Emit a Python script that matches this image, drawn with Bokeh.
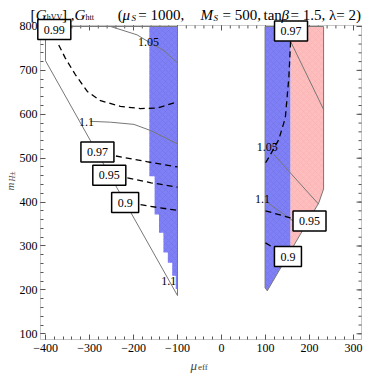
import math
from bokeh.plotting import figure
from bokeh.models import Label, LinearAxis, FixedTicker, Range1d, BoxAnnotation
from bokeh.embed import file_html
from bokeh.resources import INLINE

# ---------------- data ----------------
x_ticks = [-400, -300, -200, -100, 0, 100, 200, 300]
y_ticks = [100, 200, 300, 400, 500, 600, 700, 800]
x_minor = list(range(-400, 301, 20))
y_minor = list(range(100, 801, 20))
x_tick_labels = {-400: "\u2212400", -300: "\u2212300", -200: "\u2212200", -100: "\u2212100",
                 0: "0", 100: "100", 200: "200", 300: "300"}

# allowed-region outlines
left_region_x = [-400, -100, -100, -400]
left_region_y = [800, 800, 187, 722]
right_region_x = [99, 232, 232, 221, 104, 99]
right_region_y = [800, 800, 430, 398, 198, 205]

# shaded regions
left_blue_x = [-164, -100, -100, -104, -104, -112, -112, -122, -122, -132, -132, -142, -142, -152, -152, -164]
left_blue_y = [800, 800, 202, 202, 232, 232, 262, 262, 285, 285, 330, 330, 372, 372, 459, 459]
right_blue_x = [99, 157, 157, 104, 99]
right_blue_y = [800, 800, 289, 198, 205]
right_pink_x = [157, 232, 232, 221, 157]
right_pink_y = [800, 800, 430, 398, 289]

# G_htt contours (solid, grey)
c105_left_x = [-252, -192, -161, -131, -101]
c105_left_y = [800, 781, 762, 745, 718]
c110_left_x = [-298, -252, -199, -161, -101]
c110_left_y = [584, 582, 577, 563, 533]
c100_right_x = [157, 232]
c100_right_y = [766, 611]
c105_right_x = [119, 221]
c105_right_y = [508, 395]
c110_right_x = [106, 157, 172]
c110_right_y = [398, 361, 351]

# G_hVV contours (dashed, black)
d099_left_x = [-370, -355, -332, -305, -275, -230, -184, -146, -101]
d099_left_y = [758, 728, 690, 652, 631, 618, 613, 614, 628]
d097_left_x = [-240, -170, -100]
d097_left_y = [505, 492, 480]
d095_left_x = [-214, -160, -100]
d095_left_y = [455, 444, 434]
d090_left_x = [-184, -140, -100]
d090_left_y = [394, 387, 381]
d097_right_x = [157, 153, 145, 130, 111, 100]
d097_right_y = [766, 683, 592, 542, 508, 489]
d095_right_x = [100, 157]
d095_right_y = [380, 364]
d090_right_x = [100, 115]
d090_right_y = [307, 298]

# framed labels (dashed contours) and plain labels (solid contours)
box_text = ["0.99", "0.97", "0.95", "0.9", "0.97", "0.95", "0.9"]
box_x = [-380, -282, -255, -219, 158, 200, 151]
box_y = [793, 514, 461, 399, 790, 357, 276]
plain_text = ["1.05", "1.1", "1.1", "1.05", "1.1"]
plain_x = [-166, -307, -120, 104, 93]
plain_y = [764, 582, 220, 525, 407]

SERIF = "Liberation Serif"
# visible plot box
X_LO, X_HI = -411.4, 318.2
Y_LO, Y_HI = 87.0, 802.3
# the canvas-wide frame (so that titles and labels around the box are not clipped)
FX_LO, FX_HI = -502.3, 340.9
FY_LO, FY_HI = 5.0, 859.2

p = figure(width=371, height=375, x_range=Range1d(FX_LO, FX_HI), y_range=Range1d(FY_LO, FY_HI),
           output_backend="svg", toolbar_location=None, title=None,
           min_border_left=0, min_border_right=0, min_border_top=0, min_border_bottom=0,
           x_axis_type=None, y_axis_type=None)
p.xgrid.visible = False
p.ygrid.visible = False
p.outline_line_color = None
p.background_fill_color = "white"
p.border_fill_color = "white"

TICK_C = "#555555"

def make_axis(side, ticks, minor, loc, bounds, standoff, overrides=None):
    ax = LinearAxis(ticker=FixedTicker(ticks=ticks, minor_ticks=minor),
                    fixed_location=loc, bounds=bounds)
    ax.axis_line_color = None
    ax.major_tick_in = 5
    ax.major_tick_out = 0
    ax.minor_tick_in = 3
    ax.minor_tick_out = 0
    ax.major_tick_line_color = TICK_C
    ax.minor_tick_line_color = TICK_C
    ax.major_label_text_font = SERIF
    ax.major_label_text_font_size = "12px"
    ax.major_label_text_color = "black"
    ax.major_label_standoff = standoff
    if overrides:
        ax.major_label_overrides = overrides
    p.add_layout(ax, side)

make_axis("below", x_ticks, x_minor, Y_LO, (X_LO, X_HI), 4, x_tick_labels)
make_axis("left", y_ticks, y_minor, X_LO, (Y_LO, Y_HI), 3)

# mirrored ticks on the top and right edges of the box
p.ray(x=x_ticks, y=[Y_HI] * len(x_ticks), length=5, length_units="screen", angle=-math.pi / 2,
      line_color=TICK_C, line_width=1)
p.ray(x=x_minor, y=[Y_HI] * len(x_minor), length=3, length_units="screen", angle=-math.pi / 2,
      line_color=TICK_C, line_width=1)
p.ray(x=[X_HI] * len(y_ticks), y=y_ticks, length=5, length_units="screen", angle=math.pi,
      line_color=TICK_C, line_width=1)
p.ray(x=[X_HI] * len(y_minor), y=y_minor, length=3, length_units="screen", angle=math.pi,
      line_color=TICK_C, line_width=1)

BLUE = "#8080f6"
PINK = "#ffbdbd"
p.patch(left_blue_x, left_blue_y, fill_color=BLUE, line_color=None,
        hatch_pattern="diagonal_cross", hatch_color="#6a6ae0", hatch_alpha=0.35, hatch_scale=6)
p.patch(right_blue_x, right_blue_y, fill_color=BLUE, line_color=None,
        hatch_pattern="diagonal_cross", hatch_color="#6a6ae0", hatch_alpha=0.35, hatch_scale=6)
p.patch(right_pink_x, right_pink_y, fill_color=PINK, line_color=None,
        hatch_pattern="diagonal_cross", hatch_color="#f0a8a8", hatch_alpha=0.35, hatch_scale=6)

p.patch(left_region_x, left_region_y, fill_color=None, line_color="#777777", line_width=1)
p.patch(right_region_x, right_region_y, fill_color=None, line_color="#777777", line_width=1)

for xs, ys in [(c105_left_x, c105_left_y), (c110_left_x, c110_left_y), (c100_right_x, c100_right_y),
               (c105_right_x, c105_right_y), (c110_right_x, c110_right_y)]:
    p.line(xs, ys, line_color="#777777", line_width=1)

for xs, ys in [(d099_left_x, d099_left_y), (d097_left_x, d097_left_y), (d095_left_x, d095_left_y),
               (d090_left_x, d090_left_y), (d097_right_x, d097_right_y), (d095_right_x, d095_right_y),
               (d090_right_x, d090_right_y)]:
    p.line(xs, ys, line_color="black", line_width=1.3, line_dash="6 4")

# the box frame
p.add_layout(BoxAnnotation(left=X_LO, right=X_HI, bottom=Y_LO, top=Y_HI,
                           fill_color=None, line_color="#444444", line_width=1))

for t, x, y in zip(plain_text, plain_x, plain_y):
    p.add_layout(Label(x=x, y=y, text=t, text_font=SERIF, text_font_size="12px",
                       text_align="center", text_baseline="middle", text_color="black"))

for t, x, y in zip(box_text, box_x, box_y):
    p.add_layout(Label(x=x, y=y, text=t, text_font=SERIF, text_font_size="12px",
                       text_align="center", text_baseline="middle", text_color="black",
                       background_fill_color="white", border_line_color="black",
                       border_line_width=1.5, padding=6))

# title pieces: (text, x, y, size, style)
TB, SB = 825.1, 819.4
title_parts = [
    ("[", -434, TB, "15px", "normal"),
    ("G", -422, TB, "15px", "italic"),
    ("hVV", -397, SB, "8px", "normal"),
    ("] ,", -362.5, TB, "15px", "normal"),
    ("G", -334, TB, "15px", "italic"),
    ("htt", -309, SB, "8px", "normal"),
    ("(", -236, TB, "15px", "normal"),
    ("\u03bc", -225, TB, "15px", "italic"),
    ("S", -204.5, SB, "9px", "italic"),
    ("= 1000,", -189, TB, "15px", "normal"),
    ("M", -47.7, TB, "15px", "italic"),
    ("S", -18, SB, "9px", "italic"),
    ("= 500,", 2.3, TB, "15px", "normal"),
    ("tan", 95.5, TB, "15px", "normal"),
    ("\u03b2", 136.4, TB, "15px", "italic"),
    ("= 1.5, \u03bb= 2)", 156.8, TB, "15px", "normal"),
]
for t, x, y, s, st in title_parts:
    p.add_layout(Label(x=x, y=y, text=t, text_font=SERIF, text_font_size=s, text_font_style=st,
                       text_align="left", text_baseline="alphabetic", text_color="black"))

# axis labels
p.add_layout(Label(x=-70.5, y=27.8, text="\u03bc", text_font=SERIF, text_font_size="13px",
                   text_font_style="italic", text_align="left", text_baseline="alphabetic"))
p.add_layout(Label(x=-53.4, y=23.3, text="eff", text_font=SERIF, text_font_size="9px",
                   text_align="left", text_baseline="alphabetic"))
p.add_layout(Label(x=-480.7, y=426.4, text="m", text_font=SERIF, text_font_size="11px",
                   text_font_style="italic", text_align="left", text_baseline="alphabetic",
                   angle=math.pi / 2))
p.add_layout(Label(x=-476, y=447, text="H\u00b1", text_font=SERIF, text_font_size="8px",
                   text_font_style="italic", text_align="left", text_baseline="alphabetic",
                   angle=math.pi / 2))

open("out.html", "w").write(file_html(p, INLINE))
